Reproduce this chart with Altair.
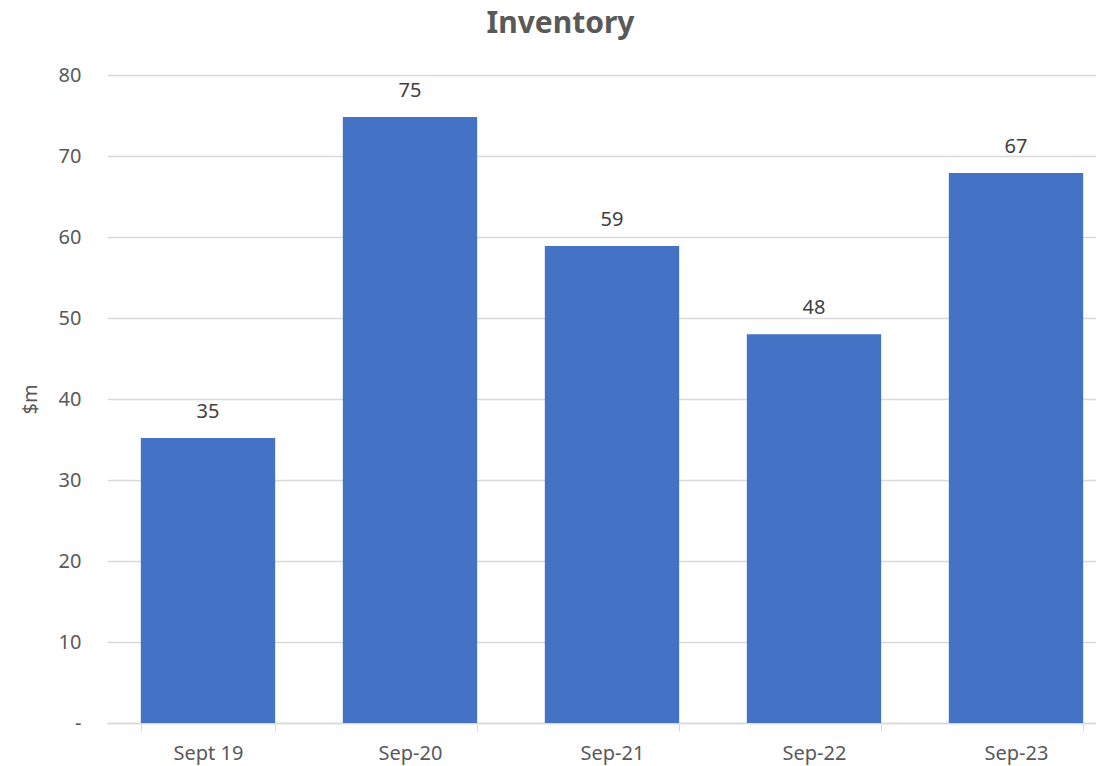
import altair as alt
import pandas as pd

categories = ["Sept 19", "Sep-20", "Sep-21", "Sep-22", "Sep-23"]
values = [35.2, 74.8, 58.9, 48.0, 67.9]
labels = ["35", "75", "59", "48", "67"]

df = pd.DataFrame({"cat": categories, "val": values, "lab": labels})

FONT = "Noto Sans"
x = alt.X("cat:N", sort=categories, title=None,
          scale=alt.Scale(paddingInner=0.335, paddingOuter=0.1675, range=[0, 1010]),
          axis=alt.Axis(labelAngle=0, labelFont=FONT, labelFontSize=20, labelColor="#595959",
                        labelPadding=12, tickBand="extent", tickSize=8, tickColor="#d9d9d9",
                        domainColor="#d9d9d9", domainWidth=1.5, grid=False))
y = alt.Y("val:Q", title="$m",
          scale=alt.Scale(domain=[0, 80], nice=False),
          axis=alt.Axis(values=[0, 10, 20, 30, 40, 50, 60, 70, 80],
                        labelExpr="datum.value == 0 ? '-' : datum.label",
                        labelFont=FONT, labelFontSize=20, labelColor="#595959",
                        labelPadding=26, ticks=False, domain=False,
                        gridColor="#d9d9d9", gridWidth=1.5,
                        titleFont=FONT, titleFontSize=20, titleFontWeight="normal",
                        titleColor="#595959", titlePadding=18))

bars = alt.Chart(df).mark_bar(color="#4472C4").encode(x=x, y=y)
text = alt.Chart(df).mark_text(baseline="alphabetic", dy=-20, font=FONT, fontSize=20,
                               color="#404040").encode(x=x, y=y, text="lab:N")

chart = (bars + text).properties(
    width=989, height=648,
    title=alt.TitleParams("Inventory", font=FONT, fontSize=30, fontWeight="bold",
                          color="#595959", anchor="middle", offset=26, dx=-41),
    autosize=alt.AutoSizeParams(type="none"),
    padding={"left": 99, "top": 67, "right": 0, "bottom": 43},
).configure_view(stroke=None)

chart.save("out.html", embed_options={"renderer": "svg", "actions": False})
